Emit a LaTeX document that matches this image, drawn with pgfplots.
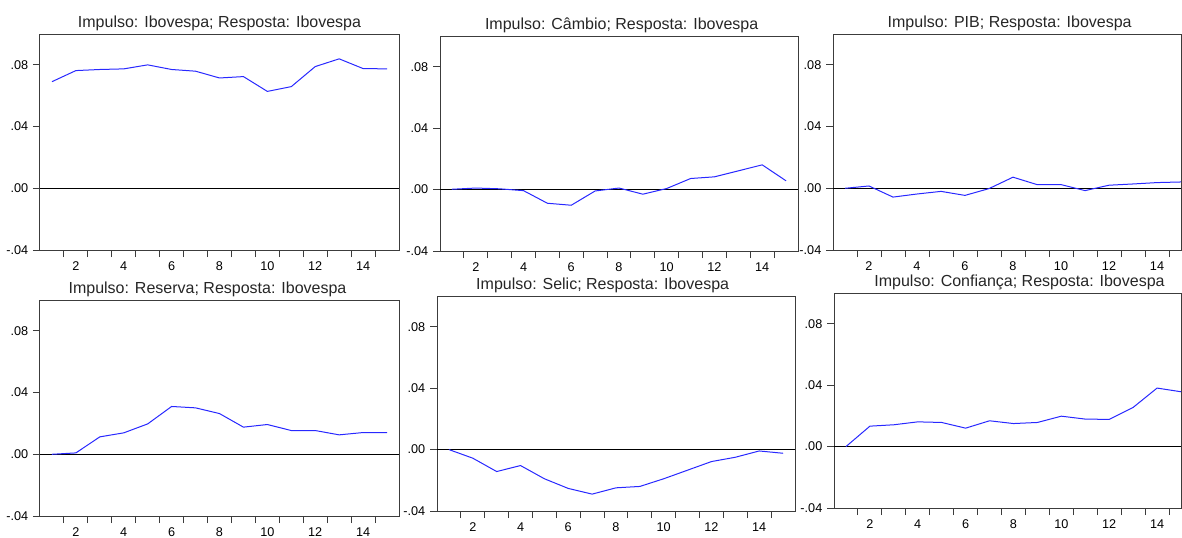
\documentclass[border=0pt]{standalone}
\usepackage{fontspec}
\setmainfont{Liberation Sans}
\usepackage{pgfplots}
\pgfplotsset{compat=1.18}
\definecolor{axgray}{RGB}{60,60,60}
\definecolor{irfblue}{RGB}{40,40,255}
\pgfplotsset{irf/.style={
  scale only axis, anchor=north west,
  xmin=0.5, xmax=15.5, ymin=-0.04, ymax=0.10,
  xtick={1.5,2.5,3.5,4.5,5.5,6.5,7.5,8.5,9.5,10.5,11.5,12.5,13.5,14.5},
  xticklabels={},
  extra x ticks={2,4,6,8,10,12,14},
  extra x tick labels={2,4,6,8,10,12,14},
  extra x tick style={major tick style={draw=none}},
  ytick={-0.04,0,0.04,0.08}, yticklabels={-.04,.00,.04,.08},
  extra y ticks={0}, extra y tick labels={},
  extra y tick style={grid=major, major grid style={black, line width=0.75pt}, major tick style={draw=none}},
  tick pos=left, tick align=outside, major tick length=5.25pt,
  axis line style={axgray, line width=0.75pt},
  every tick/.style={axgray, line width=0.75pt},
  tick label style={font=\fontsize{9.5}{11}\selectfont, text=black},
  title style={font=\fontsize{12}{14}\selectfont, text=black!85, inner sep=1pt, yshift=-5pt},
}}
\begin{document}
\begin{tikzpicture}
\useasboundingbox (0,0) rectangle (886.5pt,-402.75pt);
% Panel 1
\begin{axis}[irf, at={(30pt,-25.5pt)}, width=269.25pt, height=162pt,
  title={Impulso: Ibovespa; Resposta: Ibovespa}]
\addplot[irfblue, line width=0.75pt] coordinates {
(1,0.0691) (2,0.0763) (3,0.0770) (4,0.0774) (5,0.0800) (6,0.0770) (7,0.0759)
(8,0.0715) (9,0.0724) (10,0.0628) (11,0.0659) (12,0.0789) (13,0.0839) (14,0.0776) (15,0.0774)};
\end{axis}
% Panel 2
\begin{axis}[irf, at={(330pt,-27pt)}, width=268.5pt, height=161.25pt,
  title={Impulso: Câmbio; Resposta: Ibovespa}, title style={xshift=2pt}]
\addplot[irfblue, line width=0.75pt] coordinates {
(1,0.0002) (2,0.0010) (3,0.0005) (4,-0.0007) (5,-0.0089) (6,-0.0102) (7,-0.0009)
(8,0.0010) (9,-0.0030) (10,0.0007) (11,0.0072) (12,0.0083) (13,0.0122) (14,0.0161) (15,0.0057)};
\end{axis}
% Panel 3
\begin{axis}[irf, at={(624.75pt,-25.5pt)}, width=261pt, height=162pt, xmax=15,
  title={Impulso: PIB; Resposta: Ibovespa}, title style={xshift=2pt}]
\addplot[irfblue, line width=0.75pt] coordinates {
(1,0.0000) (2,0.0015) (3,-0.0057) (4,-0.0037) (5,-0.0020) (6,-0.0046) (7,-0.0002)
(8,0.0072) (9,0.0024) (10,0.0024) (11,-0.0015) (12,0.0020) (13,0.0028) (14,0.0037) (15,0.0041)};
\end{axis}
% Panel 4
\begin{axis}[irf, at={(30pt,-225pt)}, width=269.25pt, height=162pt,
  title={Impulso: Reserva; Resposta: Ibovespa}, title style={xshift=-9pt}]
\addplot[irfblue, line width=0.75pt] coordinates {
(1,0.0000) (2,0.0009) (3,0.0113) (4,0.0139) (5,0.0197) (6,0.0310) (7,0.0301)
(8,0.0264) (9,0.0176) (10,0.0193) (11,0.0154) (12,0.0154) (13,0.0126) (14,0.0141) (15,0.0141)};
\end{axis}
% Panel 5
\begin{axis}[irf, at={(327.75pt,-222pt)}, width=268.5pt, height=161.25pt,
  title={Impulso: Selic; Resposta: Ibovespa}, title style={xshift=-10pt}]
\addplot[irfblue, line width=0.75pt] coordinates {
(1,0.0000) (2,-0.0056) (3,-0.0143) (4,-0.0104) (5,-0.0190) (6,-0.0253) (7,-0.0290)
(8,-0.0249) (9,-0.0240) (10,-0.0190) (11,-0.0134) (12,-0.0078) (13,-0.0050) (14,-0.0009) (15,-0.0024)};
\end{axis}
% Panel 6
\begin{axis}[irf, at={(625.5pt,-219.75pt)}, width=260.25pt, height=161.25pt, xmax=15,
  title={Impulso: Confiança; Resposta: Ibovespa}, title style={xshift=9pt}]
\addplot[irfblue, line width=0.75pt] coordinates {
(1,0.0000) (2,0.0133) (3,0.0142) (4,0.0161) (5,0.0157) (6,0.0120) (7,0.0168)
(8,0.0150) (9,0.0157) (10,0.0198) (11,0.0179) (12,0.0177) (13,0.0255) (14,0.0381) (15,0.0357)};
\end{axis}
\end{tikzpicture}
\end{document}
